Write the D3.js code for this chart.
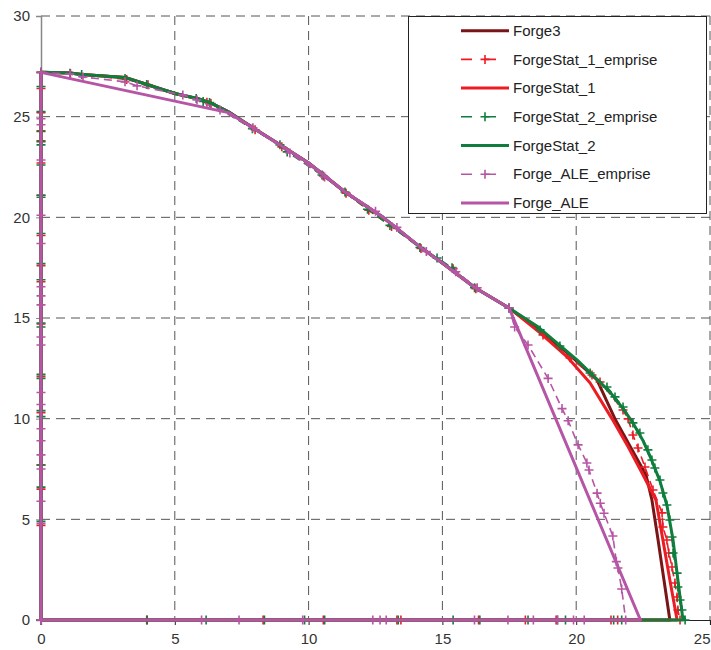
<!DOCTYPE html>
<html><head><meta charset="utf-8">
<script src="https://cdn.jsdelivr.net/npm/d3@7"></script>
<style>body{margin:0;background:#fff;} svg{display:block;font-family:"Liberation Sans",Arial,sans-serif;}</style>
</head><body><svg id="c" width="711" height="650"></svg>
<script>
// ---- data ----
const xTicks = [0, 5, 10, 15, 20, 25];
const yTicks = [0, 5, 10, 15, 20, 25, 30];
const seriesNames = ["Forge3", "ForgeStat_1_emprise", "ForgeStat_1", "ForgeStat_2_emprise", "ForgeStat_2", "Forge_ALE_emprise", "Forge_ALE"];
const seriesColors = ["#7a1517", "#ec1c24", "#ec1c24", "#0f7d3c", "#0f7d3c", "#b655a6", "#b655a6"];
const seriesDashed = [false, true, false, true, false, true, false];

// common upper profile (x, y)
const commonTop = [[0,27.2],[1.08,27.17],[1.53,27.1],[3.14,26.95],[3.96,26.6],[5.0,26.15],[5.83,25.9],[6.32,25.7],[7.06,25.2],[7.92,24.45],[8.93,23.6],[10.0,22.7],[11.36,21.26],[12.78,20.0],[14.16,18.53],[15.0,17.73],[16.22,16.5],[17.49,15.5]];

const forge3Tail = [[18.65,14.36],[19.77,13.16],[20.78,11.92],[21.45,9.99],[22.09,8.45],[22.61,7.2],[22.83,5.96],[23.06,3.97],[23.28,1.99],[23.5,0]];
const fs1Tail = [[18.65,14.26],[19.66,13.07],[20.52,11.77],[21.34,9.99],[21.94,8.6],[22.5,7.2],[22.98,5.96],[23.24,3.97],[23.5,1.99],[23.77,0]];
const fs2Tail = [[18.57,14.56],[20.03,12.92],[21.26,11.33],[21.75,10.5],[22.12,9.79],[22.5,8.9],[22.8,8.0],[23.13,6.9],[23.39,5.7],[23.62,3.97],[23.8,1.99],[23.99,0]];
const aleTop = [[0,27.2],[7.0,25.2],[7.92,24.45],[8.93,23.6],[10.0,22.7],[11.36,21.26],[12.78,20.0],[14.16,18.53],[15.0,17.73],[16.22,16.5],[17.49,15.5]];
const aleTail = [[22.4,0]];

// emprise profiles (marker points)
const fs1EmpCurve = [[0,27.2],[1.1,27.15],[3.2,26.85],[4.0,26.58],[6.2,25.72],[6.35,25.65],[8.0,24.35],[9.0,23.5],[10.55,22.05],[11.4,21.2],[12.25,20.35],[13.1,19.55],[14.2,18.45],[15.4,17.45],[16.25,16.45],[17.49,15.5],[18.76,14.16],[19.77,13.02],[20.59,12.17],[20.89,11.82],[21.75,10.43],[21.94,9.99],[22.12,9.19],[22.31,8.54],[22.57,7.6],[22.87,6.46],[23.21,5.32],[23.24,4.62],[23.39,3.97],[23.46,3.33],[23.58,2.63],[23.69,1.84],[23.77,1.14],[23.8,0.5],[23.88,0]];
const fs2EmpCurve = [[0,27.2],[1.08,27.16],[1.52,27.1],[3.14,26.9],[3.95,26.6],[5.8,25.9],[6.06,25.75],[6.3,25.7],[7.9,24.4],[8.93,23.6],[9.2,23.25],[10.5,22.1],[11.36,21.26],[12.2,20.4],[13.04,19.6],[14.16,18.5],[14.8,17.98],[15.36,17.5],[16.2,16.5],[17.49,15.5],[18.65,14.41],[19.39,13.61],[20.52,12.27],[21.15,11.57],[21.45,11.08],[21.75,10.58],[22.12,9.79],[22.38,9.29],[22.68,8.45],[22.83,7.95],[22.94,7.55],[23.13,6.95],[23.24,6.31],[23.39,5.71],[23.5,4.97],[23.58,4.12],[23.62,3.33],[23.77,2.33],[23.8,1.64],[23.88,0.99],[23.95,0.5],[24.07,0]];
const aleEmpCurve = [[0,27.2],[1.08,27.12],[1.57,26.97],[3.14,26.73],[3.59,26.53],[5.3,26.08],[5.83,25.83],[6.69,25.33],[7.92,24.45],[9.3,23.2],[10.6,22.0],[12.5,20.3],[13.3,19.5],[14.4,18.3],[15.5,17.3],[16.3,16.5],[17.49,15.5],[17.7,14.55],[18.2,13.66],[18.95,12.0],[19.47,10.5],[19.7,9.9],[20.07,8.7],[20.4,7.8],[20.48,7.45],[20.78,6.3],[20.9,5.8],[21.04,5.3],[21.37,4.17],[21.5,2.9],[21.56,2.58],[21.7,1.54],[21.85,0]];

// emprise markers on the axes
const fs1EmpYAxis = [0, 4.7, 6.5, 7.7, 10.3, 12.1, 14.7, 16.8, 17.6, 19.1, 21.1, 22.7, 23.8, 24.3, 25.2, 26.4];
const fs2EmpYAxis = [0, 4.9, 6.6, 7.7, 10.1, 10.4, 12.0, 12.2, 14.55, 14.75, 16.9, 17.7, 19.2, 21.0, 21.1, 22.6, 23.6, 23.76, 24.26, 25.25, 26.5];
const aleEmpYAxis = [0, 4.8, 5.9, 7.5, 8.2, 8.9, 9.5, 10.7, 11.3, 13.66, 14.06, 15.65, 16.1, 16.55, 18.7, 20.1, 22.85, 24.6, 24.9];
const fs1EmpXAxis = [21.55, 21.3, 19.25, 18.1, 16.35, 13.45, 13.3, 10.55, 8.3, 3.95, 0];
const fs2EmpXAxis = [21.7, 21.4, 19.6, 19.3, 18.2, 16.4, 15.4, 13.35, 10.6, 9.85, 8.35, 6.17, 3.97, 0];
const aleEmpXAxis = [20.3, 19.9, 19.3, 18.4, 17.45, 16.2, 12.9, 12.67, 12.4, 9.78, 7.4, 6.0, 0];

// ---- build contours ----
function solidContour(top, tail) {
  return [[0,0]].concat(top, tail, [[0,0]]);
}
function empriseContour(yAxis, curve, xAxis) {
  return yAxis.map(v => [0, v]).concat(curve, xAxis.map(v => [v, 0]));
}
const seriesData = [
  solidContour(commonTop, forge3Tail),
  empriseContour(fs1EmpYAxis, fs1EmpCurve, fs1EmpXAxis),
  solidContour(commonTop, fs1Tail),
  empriseContour(fs2EmpYAxis, fs2EmpCurve, fs2EmpXAxis),
  solidContour(commonTop, fs2Tail),
  empriseContour(aleEmpYAxis, aleEmpCurve, aleEmpXAxis),
  solidContour(aleTop, aleTail)
];

// ---- chart ----
const svg = d3.select("#c");
const x = d3.scaleLinear().domain([0, 25]).range([41, 710]);
const y = d3.scaleLinear().domain([0, 30]).range([620, 16]);

// grid
svg.append("g").selectAll("line").data(xTicks.filter(d => d > 0)).join("line")
  .attr("x1", d => x(d)).attr("x2", d => x(d)).attr("y1", y(30)).attr("y2", y(0))
  .attr("stroke", "#555").attr("stroke-width", 1).attr("stroke-dasharray", "9,6");
svg.append("g").selectAll("line").data(yTicks.filter(d => d > 0)).join("line")
  .attr("x1", x(0)).attr("x2", x(25)).attr("y1", d => y(d)).attr("y2", d => y(d))
  .attr("stroke", "#555").attr("stroke-width", 1).attr("stroke-dasharray", "9,6");

// axes
const yAxis = svg.append("g").attr("transform", `translate(${x(0)},0)`)
  .call(d3.axisLeft(y).tickValues(yTicks).tickSize(5).tickPadding(6));
yAxis.select(".domain").attr("stroke", "#888").attr("stroke-width", 1.5);
yAxis.selectAll(".tick line").attr("stroke", "#888");
yAxis.selectAll("text").attr("font-size", 15).attr("fill", "#333").attr("font-family", "Liberation Sans, Arial, sans-serif");

const xAxis = svg.append("g").attr("transform", `translate(0,${y(0)})`)
  .call(d3.axisBottom(x).tickValues(xTicks).tickSize(5).tickPadding(8));
xAxis.select(".domain").attr("stroke", "#222").attr("stroke-width", 1.2);
xAxis.selectAll(".tick line").attr("stroke", "#222");
xAxis.selectAll("text").attr("font-size", 15).attr("fill", "#333").attr("font-family", "Liberation Sans, Arial, sans-serif");
// keep the last label inside the window
xAxis.selectAll(".tick").filter(d => d === 25).select("text").attr("text-anchor", "end").attr("x", 0);

// series
const line = d3.line().x(d => x(d[0])).y(d => y(d[1]));
const plusPath = s => `M${-s},0H${s}M0,${-s}V${s}`;
seriesData.forEach((pts, i) => {
  const g = svg.append("g");
  g.append("path").attr("d", line(pts)).attr("fill", "none")
    .attr("stroke", seriesColors[i])
    .attr("stroke-width", seriesDashed[i] ? 1.6 : 3)
    .attr("stroke-linejoin", "round")
    .attr("stroke-dasharray", seriesDashed[i] ? "8,5" : null);
  if (seriesDashed[i]) {
    g.selectAll("path.m").data(pts).join("path").attr("class", "m")
      .attr("transform", d => `translate(${x(d[0])},${y(d[1])})`)
      .attr("d", plusPath(4.5)).attr("stroke", seriesColors[i]).attr("stroke-width", 1.6).attr("fill", "none");
  }
});

// legend
const lg = svg.append("g");
lg.append("rect").attr("x", 408.5).attr("y", 16.5).attr("width", 298).attr("height", 197)
  .attr("fill", "#fff").attr("stroke", "#222").attr("stroke-width", 1);
seriesNames.forEach((name, i) => {
  const cy = 30.7 + i * 28.7;
  lg.append("line").attr("x1", 461).attr("x2", 509).attr("y1", cy).attr("y2", cy)
    .attr("stroke", seriesColors[i]).attr("stroke-width", seriesDashed[i] ? 1.6 : 3)
    .attr("stroke-dasharray", seriesDashed[i] ? "11,13" : null);
  if (seriesDashed[i]) {
    lg.append("path").attr("transform", `translate(485,${cy})`).attr("d", plusPath(4.5))
      .attr("stroke", seriesColors[i]).attr("stroke-width", 1.6);
  }
  lg.append("text").attr("x", 513).attr("y", cy).attr("dy", "0.35em")
    .attr("font-size", 15).attr("fill", "#222").text(name);
});
</script></body></html>
